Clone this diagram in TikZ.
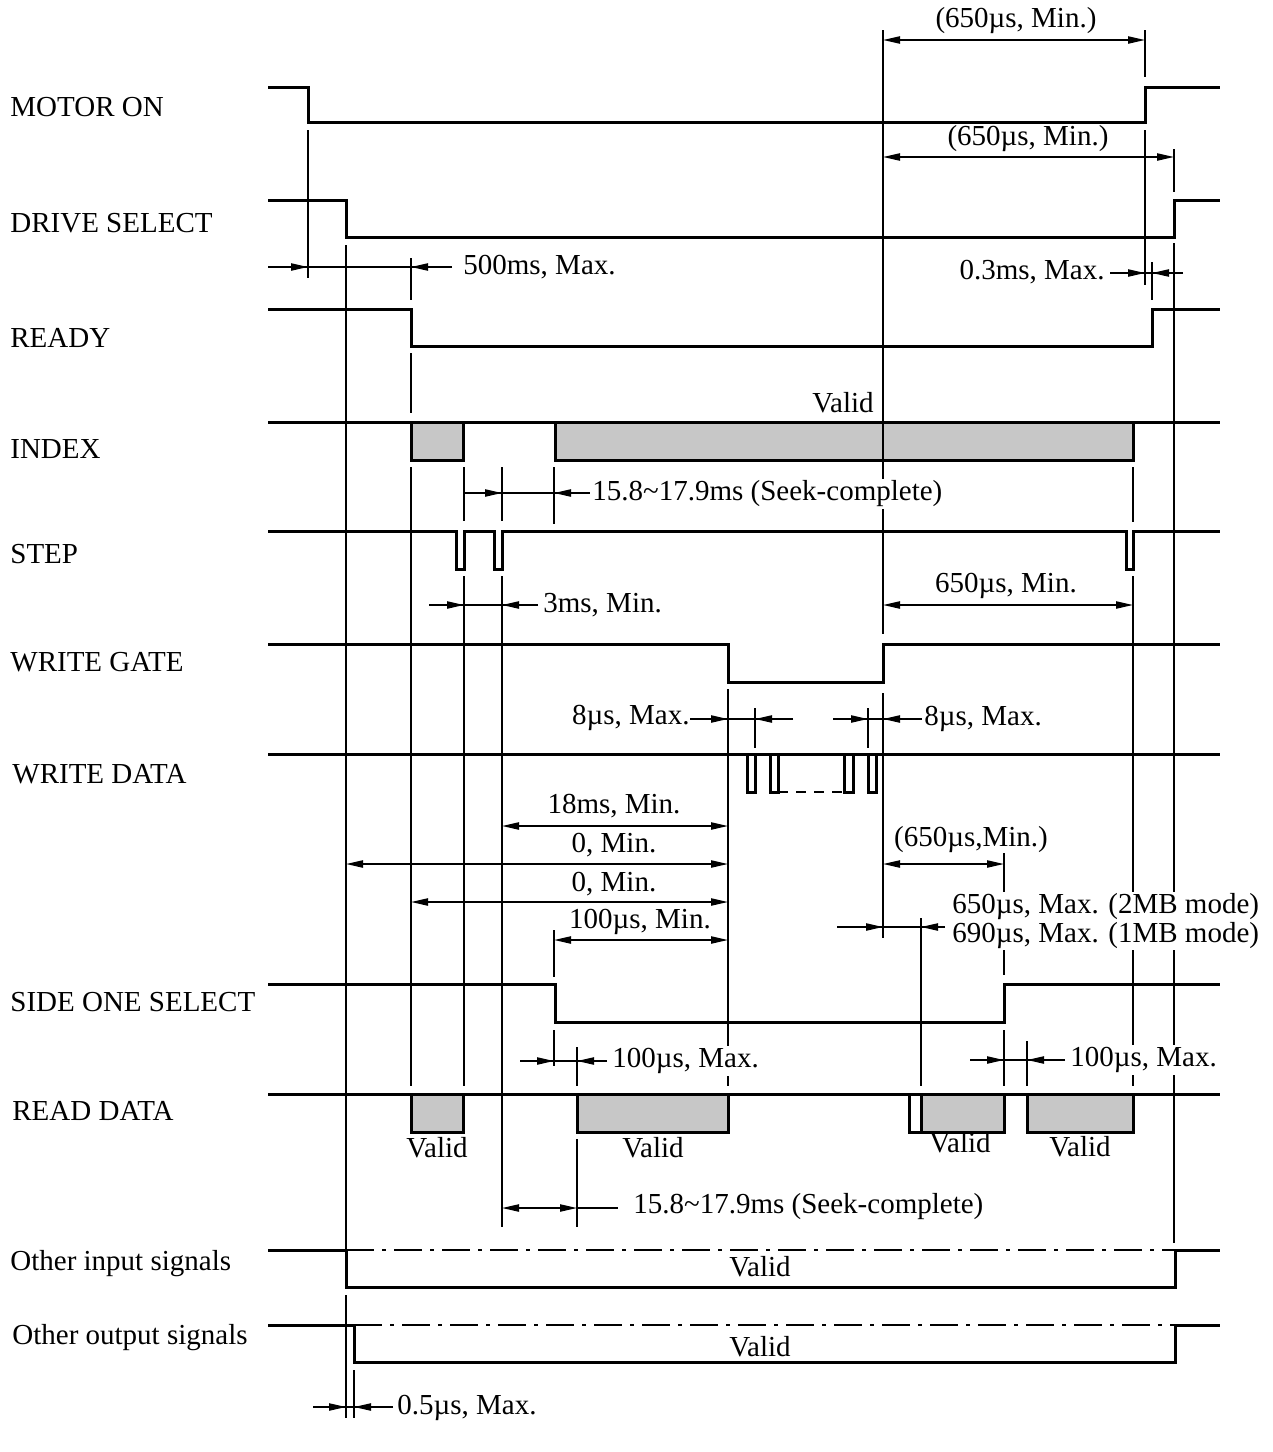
\documentclass[tikz,border=0pt]{standalone}
\usepackage{fontspec}
\setmainfont{Liberation Serif}
\usetikzlibrary{arrows.meta}

\def\pinch#1#2#3#4#5{
	% dimension line with two tips pointing inwards
	\draw[dimLine] (#2,#1) -- (#5,#1);
	\draw[dimLine, ->] (#2,#1) -- (#3,#1);
	\draw[dimLine, ->] (#5,#1) -- (#4,#1);
}

\begin{document}
\begin{tikzpicture}[x=0.5pt, y=-0.5pt, >={Triangle[length=8.5pt,width=3.6pt]},
		font=\fontsize{14.5}{17}\selectfont,
		sigLine/.style={line width=1.5pt, line join=miter},
		extLine/.style={line width=0.8pt},
		dimLine/.style={line width=0.8pt},
		hatchBox/.style={fill=black!22},
		dashDot/.style={line width=0.8pt, dash pattern=on 14pt off 4pt on 2pt off 4pt},
		sigLabel/.style={anchor=west, inner sep=0pt},
		txt/.style={inner sep=1pt},
		cover/.style={fill=white, inner sep=1pt},
		]
		\useasboundingbox (0,0) rectangle (1273,1452);
		
		\node[sigLabel] (motor) at (10,107) {MOTOR ON};
		\node[sigLabel] (drive) at (10,223) {DRIVE SELECT};
		\node[sigLabel] (ready) at (10,338) {READY};
		\node[sigLabel] (index) at (10,449) {INDEX};
		\node[sigLabel] (step) at (10,554) {STEP};
		\node[sigLabel] (wgate) at (10,662) {WRITE GATE};
		\node[sigLabel] (wdata) at (12,774) {WRITE DATA};
		\node[sigLabel] (side) at (10,1002) {SIDE ONE SELECT};
		\node[sigLabel] (rdata) at (12,1111) {READ DATA};
		\node[sigLabel] (othin) at (10,1264) {Other input signals};
		\node[sigLabel] (othout) at (12,1338) {Other output signals};
		
		% signals
		\draw[sigLine] (268,87) -- (308,87) -- (308,122) -- (1145,122) -- (1145,87) -- (1220,87);
		\draw[sigLine] (268,200) -- (346,200) -- (346,237) -- (1174,237) -- (1174,200) -- (1220,200);
		\draw[sigLine] (268,309) -- (411,309) -- (411,346) -- (1152,346) -- (1152,309) -- (1220,309);
		
		\fill[hatchBox] (411,422) rectangle (463,460);
		\fill[hatchBox] (555,422) rectangle (1133,460);
		\draw[sigLine] (268,422) -- (1220,422);
		\draw[sigLine] (411,422) -- (411,460) -- (463,460) -- (463,422);
		\draw[sigLine] (555,422) -- (555,460) -- (1133,460) -- (1133,422);
		
		\draw[sigLine] (268,531) -- (456,531) -- (456,569) -- (464,569) -- (464,531) -- (494,531) -- (494,569) -- (502,569) -- (502,531)
		-- (1126,531) -- (1126,569) -- (1133,569) -- (1133,531) -- (1220,531);
		
		\draw[sigLine] (268,644) -- (728,644) -- (728,682) -- (883,682) -- (883,644) -- (1220,644);
		
		\draw[sigLine] (268,754) -- (1220,754);
		\draw[sigLine] (747,754) -- (747,792) -- (755,792) -- (755,754);
		\draw[sigLine] (770,754) -- (770,792) -- (778,792) -- (778,754);
		\draw[sigLine] (844,754) -- (844,792) -- (853,792) -- (853,754);
		\draw[sigLine] (868,754) -- (868,792) -- (876,792) -- (876,754);
		\draw[line width=1pt, dash pattern=on 5pt off 4pt] (778,792) -- (844,792);
		
		\draw[sigLine] (268,984) -- (555,984) -- (555,1022) -- (1004,1022) -- (1004,984) -- (1220,984);
		
		\fill[hatchBox] (411,1094) rectangle (463,1132);
		\fill[hatchBox] (577,1094) rectangle (728,1132);
		\fill[hatchBox] (921,1094) rectangle (1004,1132);
		\fill[hatchBox] (1027,1094) rectangle (1133,1132);
		\draw[sigLine] (268,1094) -- (1220,1094);
		\draw[sigLine] (411,1094) -- (411,1132) -- (463,1132) -- (463,1094);
		\draw[sigLine] (577,1094) -- (577,1132) -- (728,1132) -- (728,1094);
		\draw[sigLine] (909,1094) -- (909,1132) -- (1004,1132) -- (1004,1094);
		\draw[sigLine] (921,1094) -- (921,1132);
		\draw[sigLine] (1027,1094) -- (1027,1132) -- (1133,1132) -- (1133,1094);
		
		\draw[dashDot] (346,1250) -- (1175,1250);
		\draw[sigLine] (268,1250) -- (346,1250) -- (346,1287) -- (1175,1287) -- (1175,1250) -- (1220,1250);
		\draw[dashDot] (354,1325) -- (1175,1325);
		\draw[sigLine] (268,1325) -- (354,1325) -- (354,1362) -- (1175,1362) -- (1175,1325) -- (1220,1325);
		
		% extension lines
		\draw[extLine] (308,130) -- (308,278);
		\draw[extLine] (346,245) -- (346,1250);
		\draw[extLine] (346,1295) -- (346,1418);
		\draw[extLine] (354,1370) -- (354,1418);
		\draw[extLine] (411,258) -- (411,300);
		\draw[extLine] (411,353) -- (411,413);
		\draw[extLine] (411,467) -- (411,1086);
		\draw[extLine] (464,467) -- (464,521);
		\draw[extLine] (464,576) -- (464,1086);
		\draw[extLine] (502,467) -- (502,521);
		\draw[extLine] (502,576) -- (502,1227);
		\draw[extLine] (554,467) -- (554,524);
		\draw[extLine] (554,930) -- (554,977);
		\draw[extLine] (554,1030) -- (554,1066);
		\draw[extLine] (577,1047) -- (577,1086);
		\draw[extLine] (577,1139) -- (577,1227);
		\draw[extLine] (728,689) -- (728,1086);
		\draw[extLine] (755,708) -- (755,748);
		\draw[extLine] (868,708) -- (868,748);
		\draw[extLine] (883,30) -- (883,634);
		\draw[extLine] (883,693) -- (883,938);
		\draw[extLine] (921,918) -- (921,1086);
		\draw[extLine] (1004,853) -- (1004,975);
		\draw[extLine] (1004,1030) -- (1004,1086);
		\draw[extLine] (1027,1041) -- (1027,1086);
		\draw[extLine] (1133,467) -- (1133,522);
		\draw[extLine] (1133,576) -- (1133,1086);
		\draw[extLine] (1145,30) -- (1145,77);
		\draw[extLine] (1145,130) -- (1145,285);
		\draw[extLine] (1152,262) -- (1152,300);
		\draw[extLine] (1174,149) -- (1174,192);
		\draw[extLine] (1174,243) -- (1174,1243);
		
		% dimensions
		\draw[dimLine, <->] (883,40) -- (1145,40);
		\draw[dimLine, <->] (883,157) -- (1174,157);
		\pinch{267}{268}{308}{411}{452}
		\pinch{273}{1110}{1145}{1152}{1183}
		\pinch{493}{464}{502}{554}{590}
		\pinch{605}{429}{464}{502}{538}
		\draw[dimLine, <->] (883,605) -- (1133,605);
		\pinch{719}{690}{728}{755}{793}
		\pinch{719}{833}{868}{883}{922}
		\draw[dimLine, <->] (502,826) -- (728,826);
		\draw[dimLine, <->] (346,864) -- (728,864);
		\draw[dimLine, <->] (411,902) -- (728,902);
		\draw[dimLine, <->] (554,940) -- (728,940);
		\draw[dimLine, <->] (883,864) -- (1004,864);
		\pinch{927}{837}{883}{921}{945}
		\pinch{1061}{520}{554}{577}{607}
		\pinch{1060}{970}{1004}{1027}{1065}
		\draw[dimLine, <->] (502,1208) -- (577,1208);
		\draw[dimLine] (577,1208) -- (618,1208);
		\pinch{1407}{313}{346}{354}{393}
		
		% timing texts
		\node[txt] (topMin) at (1016,21) {(650µs, Min.)};
		\node[txt] (selMin) at (1028,139) {(650µs, Min.)};
		\node[txt, anchor=west] (motorMax) at (461,267) {500ms, Max.};
		\node[txt, anchor=east] (readyMax) at (1107,272) {0.3ms, Max.};
		\node[txt] (indexValid) at (843,403) {Valid};
		\node[cover, anchor=west] (seekTop) at (590,494) {15.8\textasciitilde17.9ms (Seek-complete)};
		\node[txt, anchor=west] (stepMin) at (541,605) {3ms, Min.};
		\node[txt] (stepGap) at (1006,586) {650µs, Min.};
		\node[txt, anchor=east] (gateMax) at (692,718) {8µs, Max.};
		\node[txt, anchor=west] (dataMax) at (922,719) {8µs, Max.};
		\node[txt] (gateMin) at (614,806) {18ms, Min.};
		\node[txt] (selZero) at (614,845) {0, Min.};
		\node[txt] (readyZero) at (614,884) {0, Min.};
		\node[txt] (sideMin) at (640,922) {100µs, Min.};
		\node[txt] (sideGap) at (971,840) {(650µs,Min.)};
		\node[cover, anchor=west, align=left, font=\fontsize{14.5}{11.5}\selectfont] (sideMax) at (950,921) {650µs, Max. (2MB mode)\\690µs, Max. (1MB mode)};
		\node[cover, anchor=west] (leadMax) at (610,1061) {100µs, Max.};
		\node[cover, anchor=west] (trailMax) at (1068,1060) {100µs, Max.};
		\node[txt] (readValidA) at (437,1148) {Valid};
		\node[txt] (readValidB) at (653,1148) {Valid};
		\node[txt] (readValidC) at (960,1143) {Valid};
		\node[txt] (readValidD) at (1080,1147) {Valid};
		\node[txt, anchor=west] (seekLow) at (631,1207) {15.8\textasciitilde17.9ms (Seek-complete)};
		\node[txt] (inValid) at (760,1267) {Valid};
		\node[txt] (outValid) at (760,1347) {Valid};
		\node[txt, anchor=west] (outMax) at (395,1408) {0.5µs, Max.};
		
	\end{tikzpicture}
\end{document}
